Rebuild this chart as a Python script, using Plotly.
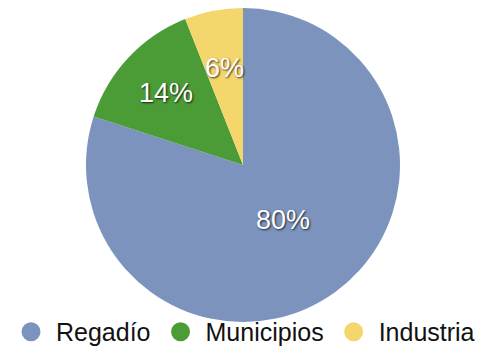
import math
import plotly.graph_objects as go

# Water use share by sector
sectors = ["Regadío", "Municipios", "Industria"]
shares = [80, 14, 6]
colors = ["#7b93bd", "#4b9b37", "#f4d66c"]

# Radial placement of each percentage label, as a fraction of the pie radius
label_radius = [0.43, 0.67, 0.63]

W, H = 492, 349
margin = dict(l=0, r=6, t=8, b=27, autoexpand=False)
plot_w = W - margin["l"] - margin["r"]
plot_h = H - margin["t"] - margin["b"]
radius_px = min(plot_w, plot_h) / 2

fig = go.Figure()

fig.add_trace(go.Pie(
    labels=sectors,
    values=shares,
    marker=dict(colors=colors, line=dict(width=0)),
    sort=False,
    direction="clockwise",
    rotation=0,
    textinfo="none",
    hoverinfo="label+percent",
    showlegend=False,
))

# Percentage labels at the middle angle of each slice (clockwise from 12 o'clock)
total = sum(shares)
start = 0.0
for share, rf in zip(shares, label_radius):
    mid = (start + share / 2) / total * 2 * math.pi
    start += share
    r = rf * radius_px
    fig.add_annotation(
        x=0.5 + r * math.sin(mid) / plot_w,
        y=0.5 + r * math.cos(mid) / plot_h,
        xref="paper", yref="paper",
        text=f"{share}%",
        showarrow=False,
        xanchor="center", yanchor="middle",
        font=dict(family="Liberation Sans, Arial, sans-serif", size=27, color="white",
                  shadow="1px 1px 2px rgba(0,0,0,0.75)"),
    )

# Circle markers for the legend
for name, col in zip(sectors, colors):
    fig.add_trace(go.Scatter(
        x=[None], y=[None], mode="markers", name=name,
        marker=dict(symbol="circle", size=20, color=col, line=dict(width=3, color=col)),
        showlegend=True,
    ))

fig.update_xaxes(visible=False)
fig.update_yaxes(visible=False)

fig.update_layout(
    width=W, height=H,
    margin=margin,
    paper_bgcolor="white",
    plot_bgcolor="white",
    legend=dict(
        orientation="h",
        x=0.5, xanchor="center",
        y=-0.105, yanchor="bottom",
        font=dict(family="Liberation Sans, Arial, sans-serif", size=25, color="#111111"),
        itemsizing="trace",
        itemwidth=40,
        bgcolor="rgba(0,0,0,0)",
    ),
)

fig.write_html("out.html")
